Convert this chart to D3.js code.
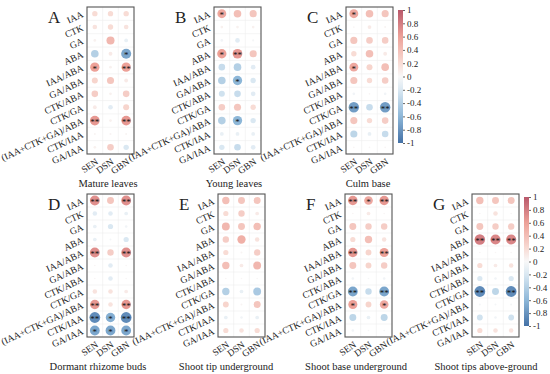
<!DOCTYPE html>
<html>
<head>
<meta charset="utf-8">
<script src="https://cdn.jsdelivr.net/npm/d3@7"></script>
<style>
  body { margin: 0; background: #fff; }
  text { font-family: "Liberation Serif", "DejaVu Serif", serif; fill: #222; }
</style>
</head>
<body>
<svg id="chart" width="550" height="374"></svg>
<script>
// rows / columns shared by every panel
const hormones = ["IAA", "CTK", "GA", "ABA", "IAA/ABA", "GA/ABA", "CTK/ABA", "CTK/GA", "(IAA+CTK+GA)/ABA", "CTK/IAA", "GA/IAA"];
const traits = ["SEN", "DSN", "GBN"];
const colorTicks = [1, 0.8, 0.6, 0.4, 0.2, 0, -0.2, -0.4, -0.6, -0.8, -1];

// correlation values, one row per hormone, columns SEN, DSN, GBN
const matureLeaves = [
  [0.2, 0.2, 0.2], [0.15, 0.2, 0.15], [0.05, 0.45, -0.1], [-0.4, 0.1, -0.7],
  [0.6, 0.05, 0.6], [0.25, 0.35, 0.1], [0.3, 0.05, 0.3], [0.1, -0.15, 0.25],
  [0.65, 0.05, 0.65], [0.03, 0.03, 0.03], [0.05, 0.3, -0.2]
];
const matureLeavesSig = [
  ["", "", ""], ["", "", ""], ["", "", ""], ["", "", "*"],
  ["*", "", "**"], ["", "", ""], ["", "", ""], ["", "", ""],
  ["**", "", "**"], ["", "", ""], ["", "", ""]
];
const youngLeaves = [
  [0.55, 0.4, 0.35], [0.05, 0.05, 0.05], [-0.05, -0.15, -0.03], [0.6, 0.65, 0.35],
  [-0.3, -0.4, -0.15], [-0.4, -0.6, -0.2], [-0.25, -0.3, -0.15], [0.3, 0.35, 0.2],
  [-0.4, -0.6, -0.2], [-0.1, -0.1, -0.1], [-0.2, -0.3, -0.15]
];
const youngLeavesSig = [
  ["*", "", ""], ["", "", ""], ["", "", ""], ["*", "**", ""],
  ["", "", ""], ["", "*", ""], ["", "", ""], ["", "", ""],
  ["", "*", ""], ["", "", ""], ["", "", ""]
];
const culmBase = [
  [0.55, 0.4, 0.35], [0.02, 0.1, 0.03], [0.35, 0.3, 0.3], [0.2, 0.4, 0.1],
  [0.55, 0.25, 0.4], [0.35, 0.2, 0.3], [-0.05, 0.02, -0.05], [-0.75, -0.3, -0.75],
  [0.35, 0.2, 0.3], [-0.35, -0.1, -0.3], [0.02, 0.02, 0.02]
];
const culmBaseSig = [
  ["*", "", ""], ["", "", ""], ["", "", ""], ["", "", ""],
  ["*", "", ""], ["", "", ""], ["", "", ""], ["**", "", "**"],
  ["", "", ""], ["", "", ""], ["", "", ""]
];
const rhizomeBuds = [
  [0.7, 0.35, 0.7], [-0.15, -0.15, -0.1], [-0.1, -0.2, -0.05], [-0.1, -0.03, -0.2],
  [0.7, 0.3, 0.7], [0.02, -0.15, 0.02], [0.02, -0.15, 0.02], [0.15, 0.15, 0.1],
  [0.65, 0.15, 0.65], [-0.85, -0.65, -0.85], [-0.7, -0.7, -0.7]
];
const rhizomeBudsSig = [
  ["**", "", "**"], ["", "", ""], ["", "", ""], ["", "", ""],
  ["**", "", "**"], ["", "", ""], ["", "", ""], ["", "", ""],
  ["**", "", "**"], ["**", "*", "**"], ["*", "*", "*"]
];
const tipUnder = [
  [0.4, 0.35, 0.35], [0.2, 0.3, 0.1], [0.45, 0.35, 0.4], [0.3, 0.5, 0.15],
  [0.2, 0.03, 0.3], [0.4, 0.1, 0.45], [0.02, 0.02, 0.02], [-0.4, -0.1, -0.45],
  [0.25, 0.03, 0.35], [-0.1, -0.05, -0.1], [0.2, 0.15, 0.2]
];
const tipUnderSig = hormones.map(() => ["", "", ""]);
const baseUnder = [
  [0.65, 0.55, 0.65], [0.02, 0.1, 0.02], [0.35, 0.3, 0.3], [0.2, 0.4, 0.15],
  [0.65, 0.25, 0.6], [0.35, 0.25, 0.3], [-0.05, -0.02, -0.05], [-0.7, -0.3, -0.7],
  [0.6, 0.25, 0.55], [-0.35, -0.1, -0.35], [-0.05, -0.02, -0.02]
];
const baseUnderSig = [
  ["**", "*", "**"], ["", "", ""], ["", "", ""], ["", "", ""],
  ["**", "", "**"], ["", "", ""], ["", "", ""], ["**", "", "**"],
  ["*", "", "*"], ["", "", ""], ["", "", ""]
];
const tipsAbove = [
  [0.4, 0.35, 0.35], [0.02, 0.15, 0.02], [0.35, 0.3, 0.3], [0.8, 0.75, 0.75],
  [0.02, 0.02, 0.02], [0.2, 0.1, 0.15], [-0.2, -0.05, -0.2], [-0.85, -0.35, -0.85],
  [-0.03, -0.03, -0.03], [-0.25, -0.05, -0.25], [0.2, 0.15, 0.15]
];
const tipsAboveSig = [
  ["", "", ""], ["", "", ""], ["", "", ""], ["**", "**", "**"],
  ["", "", ""], ["", "", ""], ["", "", ""], ["**", "", "**"],
  ["", "", ""], ["", "", ""], ["", "", ""]
];

const panels = [
  { letter: "A", title: "Mature leaves", vals: matureLeaves, sig: matureLeavesSig, x: 87, y: 7, h: 147, tx: 108, bar: false },
  { letter: "B", title: "Young leaves", vals: youngLeaves, sig: youngLeavesSig, x: 214, y: 7, h: 147, tx: 234, bar: false },
  { letter: "C", title: "Culm base", vals: culmBase, sig: culmBaseSig, x: 346, y: 7, h: 147, tx: 368, bar: true },
  { letter: "D", title: "Dormant rhizome buds", vals: rhizomeBuds, sig: rhizomeBudsSig, x: 87, y: 194, h: 143, tx: 98, bar: false },
  { letter: "E", title: "Shoot tip underground", vals: tipUnder, sig: tipUnderSig, x: 218, y: 194, h: 143, tx: 226, bar: false },
  { letter: "F", title: "Shoot base underground", vals: baseUnder, sig: baseUnderSig, x: 345, y: 194, h: 143, tx: 356, bar: false },
  { letter: "G", title: "Shoot tips above-ground", vals: tipsAbove, sig: tipsAboveSig, x: 472, y: 194, h: 143, tx: 486, bar: true }
];

const frameW = 47;

const color = d3.scaleLinear()
  .domain([-1, -0.6, -0.2, 0, 0.2, 0.6, 1])
  .range(["#4471a6", "#8db7d8", "#dae8f2", "#f8f8f8", "#f8dcd5", "#eda198", "#b9586b"]);

const svg = d3.select("#chart");
svg.append("rect").attr("width", 550).attr("height", 374).attr("fill", "#fff");

// gradient for the colour bars
const grad = svg.append("defs").append("linearGradient")
  .attr("id", "cbar").attr("x1", 0).attr("x2", 0).attr("y1", 1).attr("y2", 0);
d3.range(-1, 1.001, 0.1).forEach(v => {
  grad.append("stop").attr("offset", (v + 1) / 2).attr("stop-color", color(v));
});

panels.forEach(p => {
  const g = svg.append("g").attr("transform", "translate(" + p.x + "," + p.y + ")");

  const x = d3.scaleBand().domain(traits).range([0, frameW]);
  const y = d3.scaleBand().domain(hormones).range([0, p.h]);
  const cell = Math.min(x.bandwidth(), y.bandwidth());

  // faint grid
  g.append("g").selectAll("line.v")
    .data(traits.slice(1))
    .enter().append("line")
    .attr("x1", d => x(d)).attr("x2", d => x(d))
    .attr("y1", 0).attr("y2", p.h)
    .attr("stroke", "#eeeeee").attr("stroke-width", 0.6);
  g.append("g").selectAll("line.h")
    .data(hormones.slice(1))
    .enter().append("line")
    .attr("x1", 0).attr("x2", frameW)
    .attr("y1", d => y(d)).attr("y2", d => y(d))
    .attr("stroke", "#eeeeee").attr("stroke-width", 0.6);

  // cells
  const cells = [];
  hormones.forEach((h, i) => traits.forEach((t, j) => {
    cells.push({ h: h, t: t, v: p.vals[i][j], s: p.sig[i][j] });
  }));

  g.append("g").selectAll("circle")
    .data(cells)
    .enter().append("circle")
    .attr("cx", d => x(d.t) + x.bandwidth() / 2)
    .attr("cy", d => y(d.h) + y.bandwidth() / 2)
    .attr("r", d => 0.9 * Math.sqrt(Math.abs(d.v)) * cell / 2)
    .attr("fill", d => color(d.v));

  g.append("g").selectAll("text")
    .data(cells.filter(d => d.s))
    .enter().append("text")
    .attr("x", d => x(d.t) + x.bandwidth() / 2)
    .attr("y", d => y(d.h) + y.bandwidth() / 2 + 4.5)
    .attr("text-anchor", "middle")
    .attr("font-size", 9)
    .style("fill", "#111")
    .text(d => d.s);

  // frame
  g.append("rect")
    .attr("width", frameW).attr("height", p.h)
    .attr("fill", "none").attr("stroke", "#555").attr("stroke-width", 1.1);

  // row labels
  g.append("g").selectAll("text")
    .data(hormones)
    .enter().append("text")
    .attr("text-anchor", "end")
    .attr("font-size", 9.5)
    .attr("transform", d => "translate(-3," + (y(d) + y.bandwidth() / 2 + 3) + ") rotate(-25)")
    .text(d => d);

  // column labels
  g.append("g").selectAll("text")
    .data(traits)
    .enter().append("text")
    .attr("text-anchor", "end")
    .attr("font-size", 9.5)
    .attr("transform", d => "translate(" + (x(d) + x.bandwidth() / 2 + 4) + "," + (p.h + 9) + ") rotate(-35)")
    .text(d => d);

  // panel letter
  svg.append("text")
    .attr("x", p.x - 39).attr("y", p.y + 16)
    .attr("font-size", 17)
    .text(p.letter);

  // title
  svg.append("text")
    .attr("x", p.tx).attr("y", p.y + p.h + 33)
    .attr("text-anchor", "middle")
    .attr("font-size", 10.5)
    .text(p.title);

  if (p.bar) {
    const bh = p.h - 14;
    const cy = d3.scaleLinear().domain([-1, 1]).range([p.y + bh + 3, p.y + 3]);
    const bx = p.x + frameW + 5;
    svg.append("rect")
      .attr("x", bx).attr("y", cy(1))
      .attr("width", 5).attr("height", cy(-1) - cy(1))
      .attr("fill", "url(#cbar)");
    const axis = d3.axisRight(cy).tickValues(colorTicks).tickSize(2).tickFormat(d3.format("~g"));
    const ag = svg.append("g")
      .attr("transform", "translate(" + (bx + 5) + ",0)")
      .call(axis);
    ag.select(".domain").remove();
    ag.selectAll(".tick line").attr("stroke", "#666");
    ag.selectAll(".tick text")
      .attr("font-size", 9)
      .attr("x", 4)
      .style("font-family", "Liberation Serif")
      .style("fill", "#222")
      .text(d => d < 0 ? "-" + Math.abs(d) : d);
  }
});
</script>
</body>
</html>
